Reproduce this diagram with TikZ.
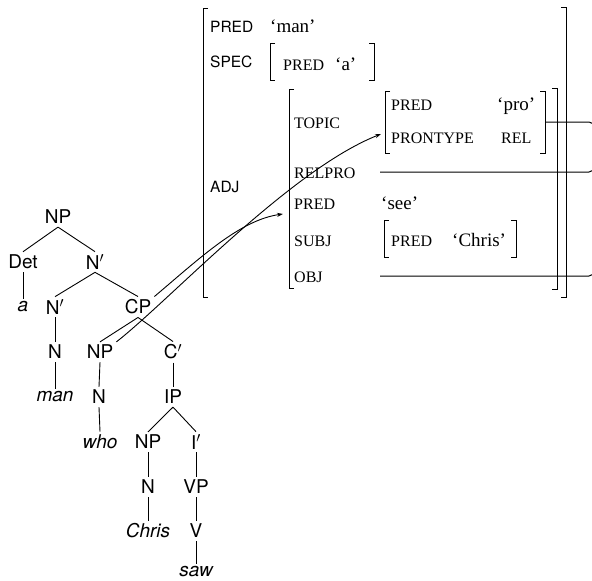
\documentclass[tikz,border=0pt]{standalone}
\usepackage{fontspec}
\setmainfont{Liberation Serif}
\setsansfont{TeX Gyre Heros}
\usepackage{tikz}
\usetikzlibrary{positioning,arrows.meta}

\begin{document}
\begin{tikzpicture}[
    x=1pt, y=-1pt,
    cat/.style={font=\sffamily\fontsize{19}{19}\selectfont, inner sep=3pt},
    word/.style={font=\sffamily\itshape\fontsize{19}{19}\selectfont, inner sep=3pt},
    attr/.style={font=\sffamily\fontsize{15.5}{15.5}\selectfont, anchor=base west, inner sep=0pt},
    feat/.style={font=\fontsize{16}{16}\selectfont, anchor=base west, inner sep=0pt},
    val/.style={font=\fontsize{19}{19}\selectfont, anchor=base west, inner sep=0pt},
    branch/.style={line width=0.9pt},
    brk/.style={line width=1pt},
    idx/.style={line width=1pt, rounded corners=5pt},
    link/.style={-{Stealth[length=6pt,width=4pt]}, line width=0.9pt}
]
    \clip (0,0) rectangle (592,581);

    % c-structure
    \node[cat] (np1) at (58,217) {NP};
    \node[cat] (det) at (23,262) {Det};
    \node[cat] (nbar1) at (95,262) {N$'$};
    \node[word] (a) at (23,307) {a};
    \node[cat] (nbar2) at (55,307) {N$'$};
    \node[cat] (cp) at (138,307) {CP};
    \node[cat] (n1) at (55,352) {N};
    \node[cat] (np2) at (100,352) {NP};
    \node[cat] (cbar) at (173,352) {C$'$};
    \node[word] (man) at (55,397) {man};
    \node[cat] (n2) at (99,397) {N};
    \node[cat] (ip) at (173,397) {IP};
    \node[word] (who) at (100,442) {who};
    \node[cat] (np3) at (148,442) {NP};
    \node[cat] (ibar) at (196,442) {I$'$};
    \node[cat] (n3) at (148,487) {N};
    \node[cat] (vp) at (196,487) {VP};
    \node[word] (chris) at (148,531) {Chris};
    \node[cat] (v) at (196,531) {V};
    \node[word] (saw) at (196,572) {saw};

    \draw[branch] (np1.south) -- (det.north); \draw[branch] (np1.south) -- (nbar1.north);
    \draw[branch] (det.south) -- (a.north);
    \draw[branch] (nbar1.south) -- (nbar2.north); \draw[branch] (nbar1.south) -- (cp.north);
    \draw[branch] (nbar2.south) -- (n1.north); \draw[branch] (n1.south) -- (man.north);
    \draw[branch] (cp.south) -- (np2.north); \draw[branch] (cp.south) -- (cbar.north);
    \draw[branch] (np2.south) -- (n2.north); \draw[branch] (n2.south) -- (who.north);
    \draw[branch] (cbar.south) -- (ip.north);
    \draw[branch] (ip.south) -- (np3.north); \draw[branch] (ip.south) -- (ibar.north);
    \draw[branch] (np3.south) -- (n3.north); \draw[branch] (n3.south) -- (chris.north);
    \draw[branch] (ibar.south) -- (vp.north); \draw[branch] (vp.south) -- (v.north);
    \draw[branch] (v.south) -- (saw.north);

    % f-structure
    \node[attr] (pred1) at (210,32) {PRED};
    \node[val] (man1) at (270,32) {`man'};
    \node[attr] (spec) at (210,67) {SPEC};
    \node[feat] (pred2) at (283,70) {PRED};
    \node[val] (a1) at (335,70) {`a'};
    \node[attr] (adj) at (210,192) {ADJ};
    \node[feat] (topic) at (294,128) {TOPIC};
    \node[feat] (pred3) at (391,110) {PRED};
    \node[val] (pro) at (497,110) {`pro'};
    \node[feat] (prontype) at (391,143) {PRONTYPE};
    \node[feat] (rel) at (501,143) {REL};
    \node[feat] (relpro) at (294,178) {RELPRO};
    \node[feat] (pred4) at (294,209) {PRED};
    \node[val] (see) at (381,209) {`see'};
    \node[feat] (subj) at (294,246) {SUBJ};
    \node[feat] (pred5) at (391,246) {PRED};
    \node[val] (chris1) at (452,246) {`Chris'};
    \node[feat] (obj) at (294,282) {OBJ};

    % brackets
    \draw[brk] (208,8) -- (203,8) -- (203,297) -- (208,297);
    \draw[brk] (561,7) -- (566,7) -- (566,297) -- (561,297);
    \draw[brk] (275,43) -- (270,43) -- (270,80) -- (275,80);
    \draw[brk] (369,43) -- (374,43) -- (374,80) -- (369,80);
    \draw[brk] (294,89) -- (289,89) -- (289,288) -- (294,288);
    \draw[brk] (552,88) -- (557,88) -- (557,289) -- (552,289);
    \draw[brk] (390,91) -- (385,91) -- (385,153) -- (390,153);
    \draw[brk] (540,91) -- (545,91) -- (545,153) -- (540,153);
    \draw[brk] (389,220) -- (384,220) -- (384,257) -- (389,257);
    \draw[brk] (511,220) -- (516,220) -- (516,257) -- (511,257);

    % structure sharing
    \coordinate (topicR) at (545,122);
    \coordinate (relproV) at (380,172);
    \coordinate (objV) at (380,276);
    \draw[idx] (topicR) -- (594,122) -- (594,276);
    \draw[idx] (relproV) -- (594,172) -- (594,122);
    \draw[idx] (objV) -- (594,276) -- (594,122);

    % phi links
    \coordinate (topicIn) at (381,134);
    \coordinate (predIn) at (283,214);
    \draw[link] (np2.north east) .. controls (170,300) and (290,170) .. (topicIn);
    \draw[link] (cp.north east) .. controls (200,258) and (240,220) .. (predIn);
\end{tikzpicture}
\end{document}
